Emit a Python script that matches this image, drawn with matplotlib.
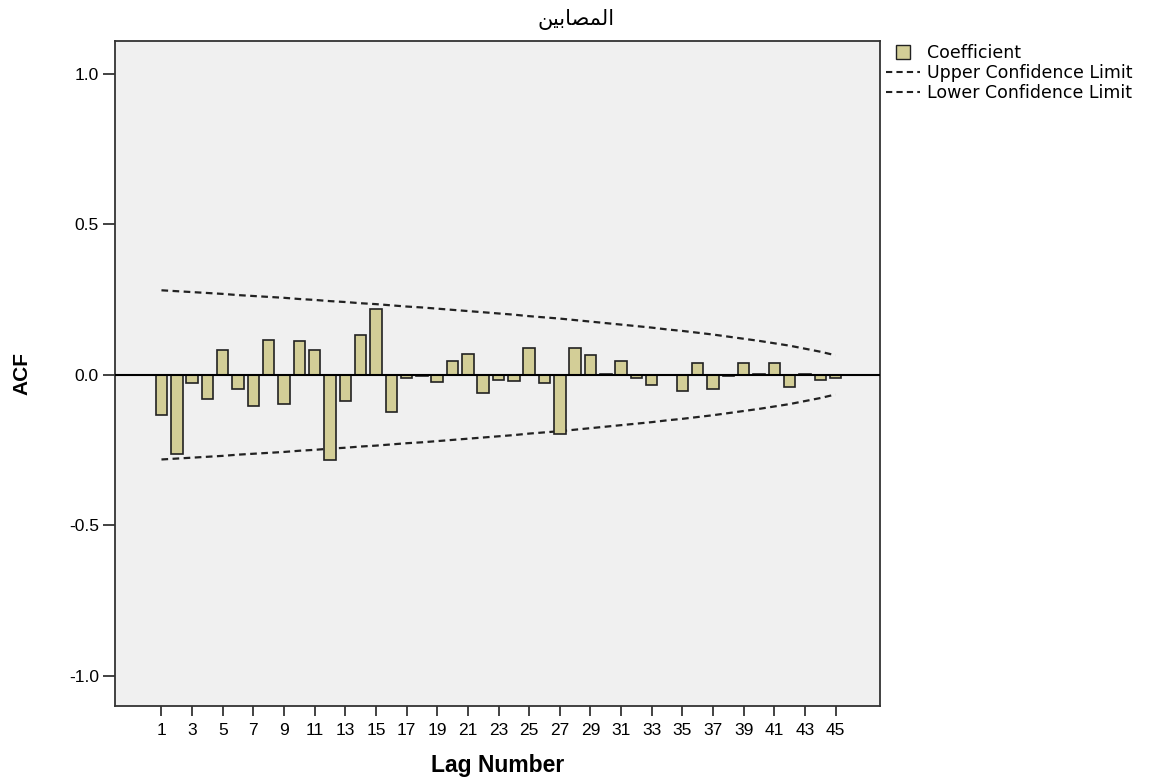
import numpy as np
import matplotlib
matplotlib.use('Agg')
import matplotlib.pyplot as plt
from matplotlib.lines import Line2D

plt.rc('font', family=['Liberation Sans', 'DejaVu Sans'], size=10)
plt.rc('axes', unicode_minus=False)

# ACF coefficients, lags 1..45
lags = list(range(1, 46))
acf = [-0.132, -0.263, -0.028, -0.080, 0.084, -0.048, -0.103, 0.117, -0.097, 0.112,
       0.081, -0.283, -0.086, 0.133, 0.218, -0.122, -0.010, -0.003, -0.022, 0.047,
       0.068, -0.060, -0.018, -0.020, 0.089, -0.027, -0.198, 0.088, 0.067, 0.002,
       0.045, -0.010, -0.033, 0.000, -0.053, 0.041, -0.048, -0.004, 0.039, 0.002,
       0.039, -0.039, 0.003, -0.016, -0.011]
# upper confidence limit; lower is its mirror
upper = [0.281, 0.278, 0.275, 0.272, 0.269, 0.265, 0.262, 0.259, 0.256, 0.252,
         0.249, 0.245, 0.242, 0.238, 0.235, 0.231, 0.227, 0.224, 0.220, 0.216,
         0.212, 0.208, 0.204, 0.200, 0.195, 0.191, 0.187, 0.182, 0.177, 0.172,
         0.167, 0.162, 0.157, 0.151, 0.146, 0.140, 0.134, 0.127, 0.120, 0.113,
         0.105, 0.097, 0.087, 0.077, 0.065]
lower = [-u for u in upper]
yticks = [-1.0, -0.5, 0.0, 0.5, 1.0]
xticks = list(range(1, 46, 2))
title = '\uFEE6\uFEF4\uFE91\uFE8E\uFEBC\uFEE4\uFEDF\uFE8D'  # المصابين, shaped

bar_color = '#D3CE97'
dash = (0, (3, 2))

fig = plt.figure(figsize=(11.69, 7.83), dpi=100)
ax = fig.add_axes([0.0988, 0.0983, 0.654, 0.8497])
ax.set_facecolor('#F0F0F0')

ax.bar(lags, acf, width=0.75, color=bar_color, edgecolor='#222222', linewidth=1.2, zorder=3)
ax.axhline(0, color='black', linewidth=1.5, zorder=4)
ax.plot(lags, upper, color='#222222', linestyle=dash, linewidth=1.6, zorder=2)
ax.plot(lags, lower, color='#222222', linestyle=dash, linewidth=1.6, zorder=2)

ax.set_xlim(-2.0, 47.9)
ax.set_ylim(-1.10, 1.11)
ax.set_xticks(xticks)
ax.set_xticklabels([str(x) for x in xticks], fontsize=12.5)
ax.set_yticks(yticks)
ax.set_yticklabels(['%.1f' % y for y in yticks], fontsize=12.5)
ax.tick_params(direction='out', width=1.2, color='#222222')
ax.tick_params(axis='x', length=7, pad=5)
ax.tick_params(axis='y', length=9, pad=3)

for s in ax.spines.values():
    s.set_color('#333333')
    s.set_linewidth(1.3)

ax.set_xlabel('Lag Number', fontsize=16.5, fontweight='bold')
ax.xaxis.set_label_coords(0.5, -0.072)
ax.set_ylabel('ACF', fontsize=15, fontweight='bold')
ax.yaxis.set_label_coords(-0.110, 0.5)

fig.text(576 / 1169, 1 - 19 / 783, title, family=['DejaVu Sans'], fontsize=15,
         ha='center', va='center')

handles = [
    Line2D([], [], marker='s', markersize=10, markerfacecolor=bar_color,
           markeredgecolor='#222222', linestyle='None'),
    Line2D([], [], color='#222222', linestyle=dash, linewidth=1.5),
    Line2D([], [], color='#222222', linestyle=dash, linewidth=1.5),
]
leg = ax.legend(handles, ['Coefficient', 'Upper Confidence Limit', 'Lower Confidence Limit'],
                loc='upper left', bbox_to_anchor=(884 / 1169, 1 - 42 / 783),
                bbox_transform=fig.transFigure, frameon=False,
                prop={'family': 'DejaVu Sans', 'size': 12.5},
                handlelength=2.0, handletextpad=0.4, labelspacing=0.12,
                borderaxespad=0, borderpad=0.1)

fig.savefig('out.png', dpi=100, facecolor='white')
